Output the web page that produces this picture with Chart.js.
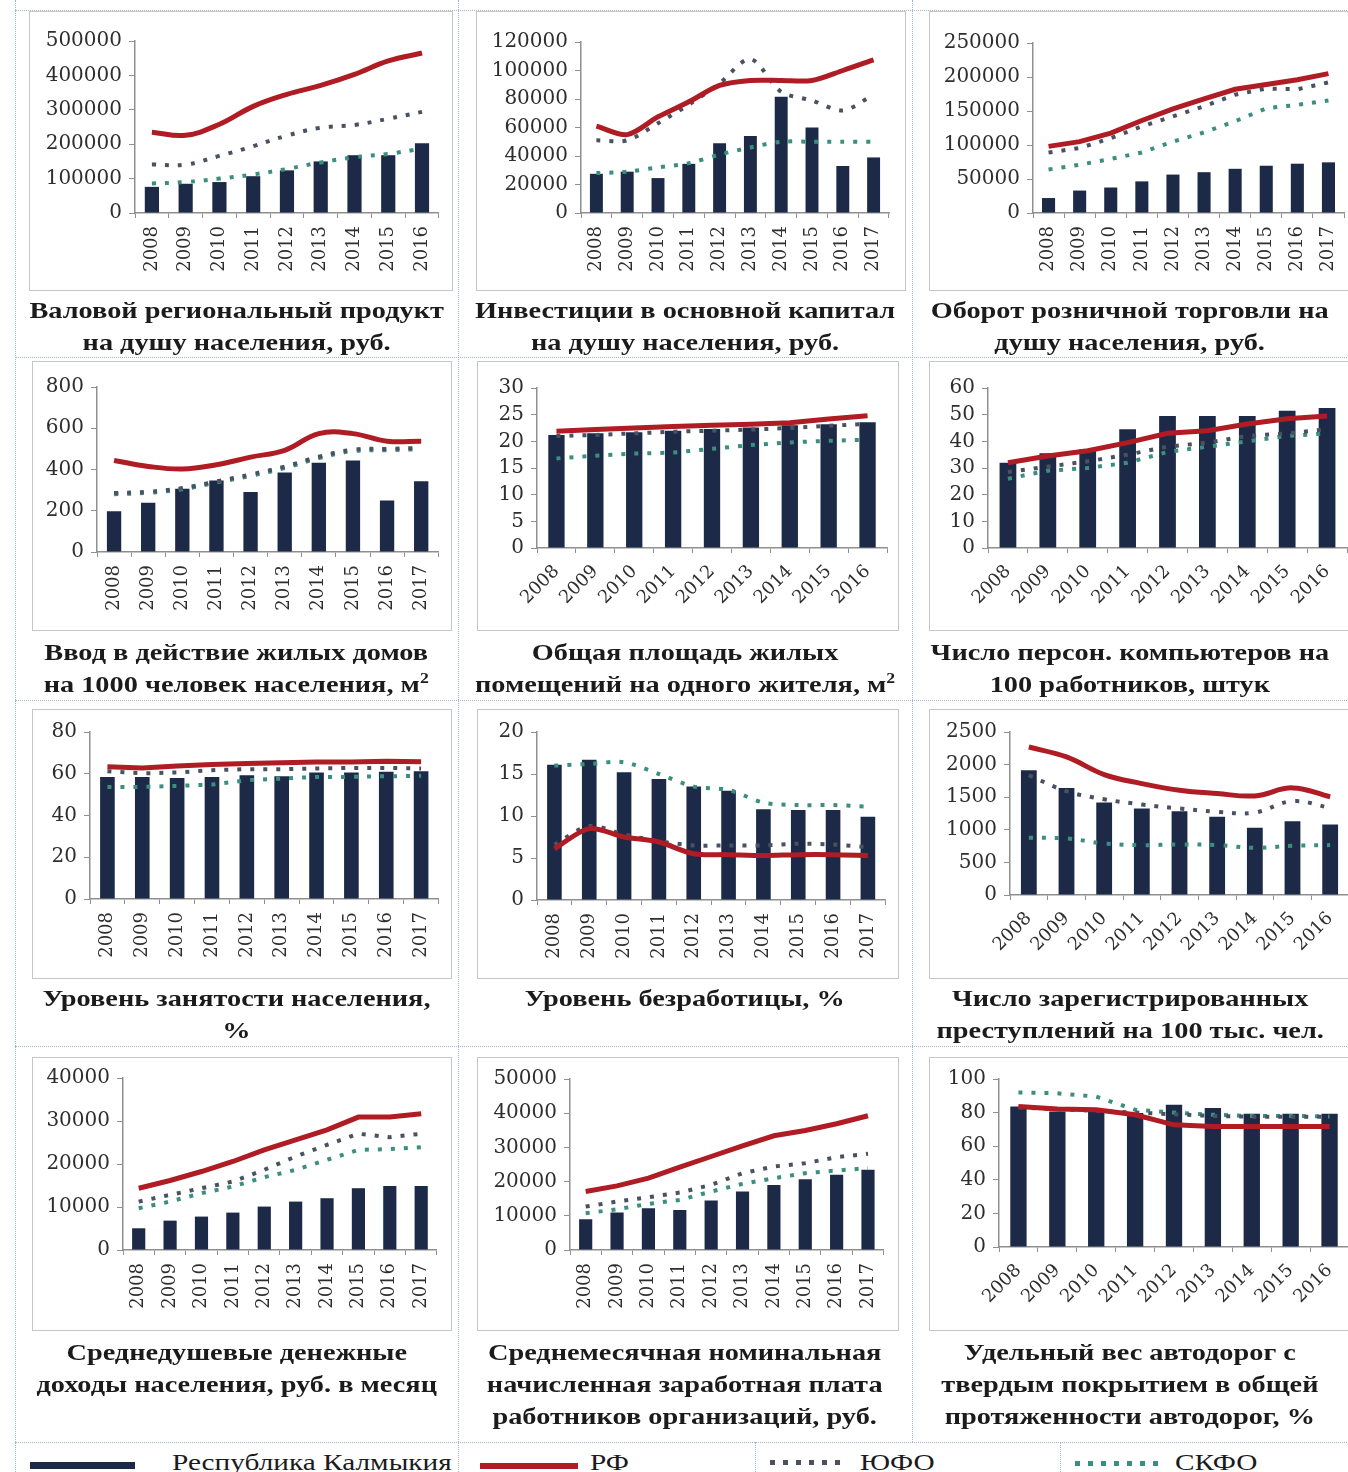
<!DOCTYPE html>
<html lang="ru">
<head>
<meta charset="utf-8">
<title>Республика Калмыкия: показатели</title>
<script src="https://cdn.jsdelivr.net/npm/chart.js@4.4.1/dist/chart.umd.min.js"></script>
<style>
  html, body { margin: 0; padding: 0; background: #fff; }
  body { width: 1348px; height: 1472px; overflow: hidden; position: relative; }
  .box { position: absolute; outline: 1px solid #c6c6c6; background: #fff; }
  .ttl { position: absolute; text-align: center; font: bold 24px "Liberation Serif", serif;
         line-height: 32px; color: #1b1b1b; white-space: nowrap; }
  .ttl span { display: inline-block; transform: scaleX(1.18); }
  .ttl sup { font-size: 15px; line-height: 0; }
  .vl { position: absolute; border-left: 1px dotted #9db6d0; }
  .hl { position: absolute; border-top: 1px dotted #9db6d0; }
  .lg { position: absolute; font: 24px "Liberation Serif", serif; line-height: 32px; color: #1b1b1b;
        white-space: nowrap; transform: scaleX(1.22); transform-origin: left center; }
  .swatch { position: absolute; }
</style>
</head>
<body>
<div id="root"></div>
<script>
// ---------------- DATA ----------------
const years16 = ["2008", "2009", "2010", "2011", "2012", "2013", "2014", "2015", "2016"];
const years17 = ["2008", "2009", "2010", "2011", "2012", "2013", "2014", "2015", "2016", "2017"];

// 1. ВРП на душу населения
const grpKalm = [76000, 85000, 90000, 107000, 124000, 150000, 168000, 168000, 203000];
const grpRF   = [235000, 226000, 258000, 310000, 345000, 371000, 403000, 442000, 465000];
const grpYufo = [141000, 141000, 166000, 194000, 225000, 248000, 256000, 274000, 294000];
const grpSkfo = [86000, 90000, 100000, 112000, 128000, 147000, 162000, 172000, 187000];

// 2. Инвестиции в основной капитал
const invKalm = [27500, 29000, 24500, 34500, 49000, 54000, 81500, 60000, 33000, 39000];
const invRF   = [61000, 55000, 67500, 78000, 89500, 93000, 93000, 93000, 100000, 107500];
const invYufo = [51000, 51000, 63000, 76000, 91000, 108000, 85000, 79000, 72000, 83000];
const invSkfo = [28000, 29000, 32000, 35000, 41000, 46000, 50000, 50000, 50000, 50000];

// 3. Оборот розничной торговли
const retKalm = [22000, 33000, 37500, 46500, 56500, 60000, 65000, 69500, 72500, 74500];
const retRF   = [98000, 105000, 117500, 136000, 153000, 168000, 182000, 189000, 196000, 205000];
const retYufo = [89000, 95500, 110000, 127500, 142000, 157000, 174000, 183000, 182000, 192000];
const retSkfo = [64000, 71000, 79500, 89000, 105000, 118500, 135000, 154000, 159000, 165500];

// 4. Ввод жилья на 1000 человек
const houseKalm = [197, 239, 307, 347, 291, 385, 433, 444, 250, 343];
const houseRF   = [444, 415, 402, 423, 460, 493, 574, 574, 537, 537];
const houseYufo = [286, 292, 310, 342, 376, 414, 462, 496, 500, 504];
const houseSkfo = [280, 287, 304, 337, 369, 407, 455, 489, 494, 498];

// 5. Общая площадь жилья на жителя
const areaKalm = [21.2, 21.5, 21.7, 22.0, 22.3, 22.6, 23.0, 23.2, 23.6];
const areaRF   = [21.9, 22.2, 22.5, 22.8, 23.0, 23.2, 23.5, 24.2, 24.8];
const areaYufo = [21.0, 21.2, 21.5, 21.8, 22.0, 22.2, 22.5, 22.9, 23.3];
const areaSkfo = [16.8, 17.3, 17.7, 17.9, 18.6, 19.3, 19.8, 20.1, 20.3];

// 6. Персональные компьютеры на 100 работников
const pcKalm = [32, 35.5, 37, 44.5, 49.5, 49.5, 49.5, 51.5, 52.5];
const pcRF   = [32, 34.5, 36.5, 39.5, 43, 44, 46.5, 48.5, 49.5];
const pcYufo = [28.5, 30.5, 32.5, 35, 38, 39.5, 42, 43, 44.5];
const pcSkfo = [26, 29, 30, 32, 36, 38, 40, 42, 43];

// 7. Уровень занятости
const empKalm = [58.5, 58.5, 58, 58.5, 59.3, 58.8, 60.6, 60.6, 61, 61.2];
const empRF   = [63.3, 62.8, 63.7, 64.4, 64.9, 65.3, 65.6, 65.6, 66, 65.7];
const empYufo = [61.2, 60.2, 60.6, 61.7, 62.2, 62.2, 62.5, 62.8, 62.8, 62.5];
const empSkfo = [53.7, 53.7, 54.2, 54.8, 56.9, 57.7, 58.5, 58.5, 58.8, 59];

// 8. Уровень безработицы
const unempKalm = [16.1, 16.7, 15.2, 14.4, 13.5, 13.0, 10.8, 10.7, 10.7, 9.9];
const unempRF   = [6.1, 8.5, 7.5, 6.9, 5.5, 5.4, 5.3, 5.4, 5.4, 5.3];
const unempYufo = [6.6, 8.8, 7.8, 7.0, 6.5, 6.5, 6.5, 6.7, 6.6, 6.3];
const unempSkfo = [16.0, 16.2, 16.4, 15.0, 13.5, 13.1, 11.6, 11.3, 11.3, 11.1];

// 9. Преступления на 100 тыс. чел.
const crimeKalm = [1913, 1643, 1418, 1327, 1286, 1199, 1031, 1133, 1082];
const crimeRF   = [2270, 2117, 1847, 1709, 1607, 1556, 1520, 1643, 1505];
const crimeYufo = [1837, 1592, 1469, 1388, 1327, 1276, 1265, 1439, 1337];
const crimeSkfo = [878, 867, 791, 765, 776, 765, 724, 755, 765];

// 10. Среднедушевые доходы
const incKalm = [5050, 6830, 7770, 8700, 10100, 11260, 12040, 14370, 14910, 14910];
const incRF   = [14370, 16160, 18250, 20580, 23300, 25630, 27960, 30910, 30910, 31690];
const incYufo = [11260, 12820, 14370, 15920, 18640, 21750, 24470, 27030, 26250, 27030];
const incSkfo = [9710, 11260, 13200, 14760, 16930, 18640, 20970, 23300, 23460, 23920];

// 11. Среднемесячная заработная плата
const wageKalm = [8980, 10940, 12210, 11720, 14450, 17090, 19040, 20700, 21970, 23440];
const wageRF   = [17090, 18750, 21000, 24220, 27340, 30470, 33400, 34960, 36910, 39260];
const wageYufo = [12700, 14160, 15430, 16800, 19040, 22460, 24410, 25390, 27150, 28130];
const wageSkfo = [10740, 11910, 13480, 14650, 17090, 19340, 21000, 22460, 23240, 23930];

// 12. Доля автодорог с твердым покрытием
const roadKalm = [83.7, 80.7, 81.7, 79.7, 84.7, 82.7, 79.3, 79.3, 79.3];
const roadRF   = [83.7, 82.1, 81.7, 78.7, 72.7, 71.7, 71.7, 71.7, 71.7];
const roadYufo = [83, 82, 81, 80, 79, 78, 77.5, 77.5, 77.5];
const roadSkfo = [92, 91.5, 89.5, 81.7, 80, 78.7, 78, 78, 77.7];

// y axis ranges (tick labels come from these)
const yMax  = [500000, 120000, 250000, 800, 30, 60, 80, 20, 2500, 40000, 50000, 100];
const yStep = [100000, 20000, 50000, 200, 5, 10, 20, 5, 500, 10000, 10000, 20];

const titles = [
    "Валовой региональный продукт<br>на душу населения, руб.",
    "Инвестиции в основной капитал<br>на душу населения, руб.",
    "Оборот розничной торговли на<br>душу населения, руб.",
    "Ввод в действие жилых домов<br>на 1000 человек населения, м<sup>2</sup>",
    "Общая площадь жилых<br>помещений на одного жителя, м<sup>2</sup>",
    "Число персон. компьютеров на<br>100 работников, штук",
    "Уровень занятости населения,<br>%",
    "Уровень безработицы, %",
    "Число зарегистрированных<br>преступлений на 100 тыс. чел.",
    "Среднедушевые денежные<br>доходы населения, руб. в месяц",
    "Среднемесячная номинальная<br>начисленная заработная плата<br>работников организаций, руб.",
    "Удельный вес автодорог с<br>твердым покрытием в общей<br>протяженности автодорог, %"
];

const series = [
    [years16, grpKalm, grpRF, grpYufo, grpSkfo],
    [years17, invKalm, invRF, invYufo, invSkfo],
    [years17, retKalm, retRF, retYufo, retSkfo],
    [years17, houseKalm, houseRF, houseYufo, houseSkfo],
    [years16, areaKalm, areaRF, areaYufo, areaSkfo],
    [years16, pcKalm, pcRF, pcYufo, pcSkfo],
    [years17, empKalm, empRF, empYufo, empSkfo],
    [years17, unempKalm, unempRF, unempYufo, unempSkfo],
    [years16, crimeKalm, crimeRF, crimeYufo, crimeSkfo],
    [years17, incKalm, incRF, incYufo, incSkfo],
    [years17, wageKalm, wageRF, wageYufo, wageSkfo],
    [years16, roadKalm, roadRF, roadYufo, roadSkfo]
];

// ---------------- LAYOUT ----------------
// chart box: left, top, width, height
const boxes = [
    [30, 12, 422, 278], [477, 12, 428, 278], [930, 12, 430, 278],
    [33, 362, 418, 268], [478, 362, 420, 268], [930, 362, 430, 268],
    [33, 710, 418, 268], [478, 710, 420, 268], [930, 710, 430, 268],
    [33, 1058, 418, 272], [478, 1058, 420, 272], [930, 1058, 430, 272]
];
// plot area: y-axis x, top y, x-axis y, right x
const plots = [
    [135, 41, 213, 445], [581, 42, 213, 889], [1033, 43, 213, 1344],
    [97, 387, 552, 447], [537, 388, 548, 887], [988, 388, 548, 1347],
    [90, 732, 899, 445], [537, 732, 900, 888], [1010, 732, 895, 1349],
    [123, 1078, 1250, 447], [570, 1079, 1250, 890], [999, 1079, 1247, 1349]
];
const rotation = [90, 90, 90, 90, 45, 45, 90, 90, 45, 90, 90, 45];
const smooth = [0.4, 0.3, 0, 0.4, 0, 0, 0, 0.3, 0.4, 0, 0, 0];

const colCells = [[15, 443], [458, 454], [912, 436]];
const rowTitleY = [310, 652, 998, 1352];

const NAVY = "#1c2a48", RED = "#b01c24", YUFO = "#4a5262", SKFO = "#3c8f7f";
const AXIS = "#8f8f8f";

const root = document.getElementById("root");

function add(cls, css, html) {
    let d = document.createElement("div");
    d.className = cls;
    Object.assign(d.style, css);
    if (html) d.innerHTML = html;
    root.appendChild(d);
    return d;
}

// ---------------- TABLE LINES ----------------
[10, 357, 700, 1046, 1442].forEach(y => add("hl", { left: "15px", top: y + "px", width: "1340px" }));
[15, 458, 912].forEach(x => add("vl", { left: x + "px", top: "0px", height: "1442px" }));
[15, 458, 755, 1060].forEach(x => add("vl", { left: x + "px", top: "1442px", height: "40px" }));

// ---------------- CHARTS ----------------
series.forEach((s, i) => {
    const [bx, by, bw, bh] = boxes[i];
    const [ax, ty, xy, rx] = plots[i];
    const box = add("box", { left: bx + "px", top: by + "px", width: bw + "px", height: bh + "px" });
    const cv = document.createElement("canvas");
    box.appendChild(cv);

    const rot = rotation[i];
    const t = smooth[i];

    new Chart(cv, {
        type: "bar",
        data: {
            labels: s[0],
            datasets: [
                { type: "line", label: "РФ", data: s[2], borderColor: RED, borderWidth: 5,
                  pointRadius: 0, tension: t, order: 1 },
                { type: "line", label: "ЮФО", data: s[3], borderColor: YUFO, borderWidth: 4,
                  borderDash: [4, 9], pointRadius: 0, tension: t, order: 2 },
                { type: "line", label: "СКФО", data: s[4], borderColor: SKFO, borderWidth: 4,
                  borderDash: [4, 9], pointRadius: 0, tension: t, order: 3 },
                { type: "bar", label: "Республика Калмыкия", data: s[1], backgroundColor: NAVY,
                  barPercentage: 0.42, categoryPercentage: 1, order: 4 }
            ]
        },
        options: {
            responsive: true,
            maintainAspectRatio: false,
            animation: false,
            events: [],
            layout: { padding: { left: 0, top: ty - by, right: bx + bw - rx, bottom: 0 } },
            plugins: { legend: { display: false }, tooltip: { enabled: false } },
            scales: {
                x: {
                    offset: true,
                    grid: { offset: true, drawOnChartArea: false, tickLength: 5, color: AXIS },
                    border: { display: true, color: AXIS, width: 1.5 },
                    ticks: { minRotation: rot, maxRotation: rot, autoSkip: false, padding: 8,
                             color: "#2e2e2e", font: { family: "DejaVu Serif", size: 18 } },
                    afterFit: sc => { sc.height = by + bh - xy; }
                },
                y: {
                    min: 0, max: yMax[i],
                    grid: { drawOnChartArea: false, tickLength: 6, color: AXIS },
                    border: { display: true, color: AXIS, width: 1.5 },
                    ticks: { stepSize: yStep[i], padding: 7, color: "#2e2e2e", maxTicksLimit: 20,
                             font: { family: "DejaVu Serif", size: 20, lineHeight: 0.9 },
                             callback: v => String(v) },
                    afterFit: sc => { sc.width = ax - bx; }
                }
            }
        }
    });

    // title under the chart
    const col = colCells[i % 3];
    const row = Math.floor(i / 3);
    add("ttl", { left: col[0] + "px", width: col[1] + "px", top: (rowTitleY[row] - 16) + "px" },
        "<span>" + titles[i] + "</span>");
});

// ---------------- LEGEND ----------------
add("swatch", { left: "30px", top: "1462px", width: "105px", height: "7px", background: NAVY });
add("lg", { left: "172px", top: "1446px" }, "Республика Калмыкия");
add("swatch", { left: "480px", top: "1463px", width: "98px", height: "6px", background: RED });
add("lg", { left: "590px", top: "1446px" }, "РФ");
add("swatch", { left: "770px", top: "1460px", width: "78px", height: "5px",
    background: "repeating-linear-gradient(90deg," + YUFO + " 0 5px, transparent 5px 13px)" });
add("lg", { left: "860px", top: "1446px" }, "ЮФО");
add("swatch", { left: "1075px", top: "1461px", width: "88px", height: "5px",
    background: "repeating-linear-gradient(90deg," + SKFO + " 0 5px, transparent 5px 13px)" });
add("lg", { left: "1175px", top: "1446px" }, "СКФО");
</script>
</body>
</html>
